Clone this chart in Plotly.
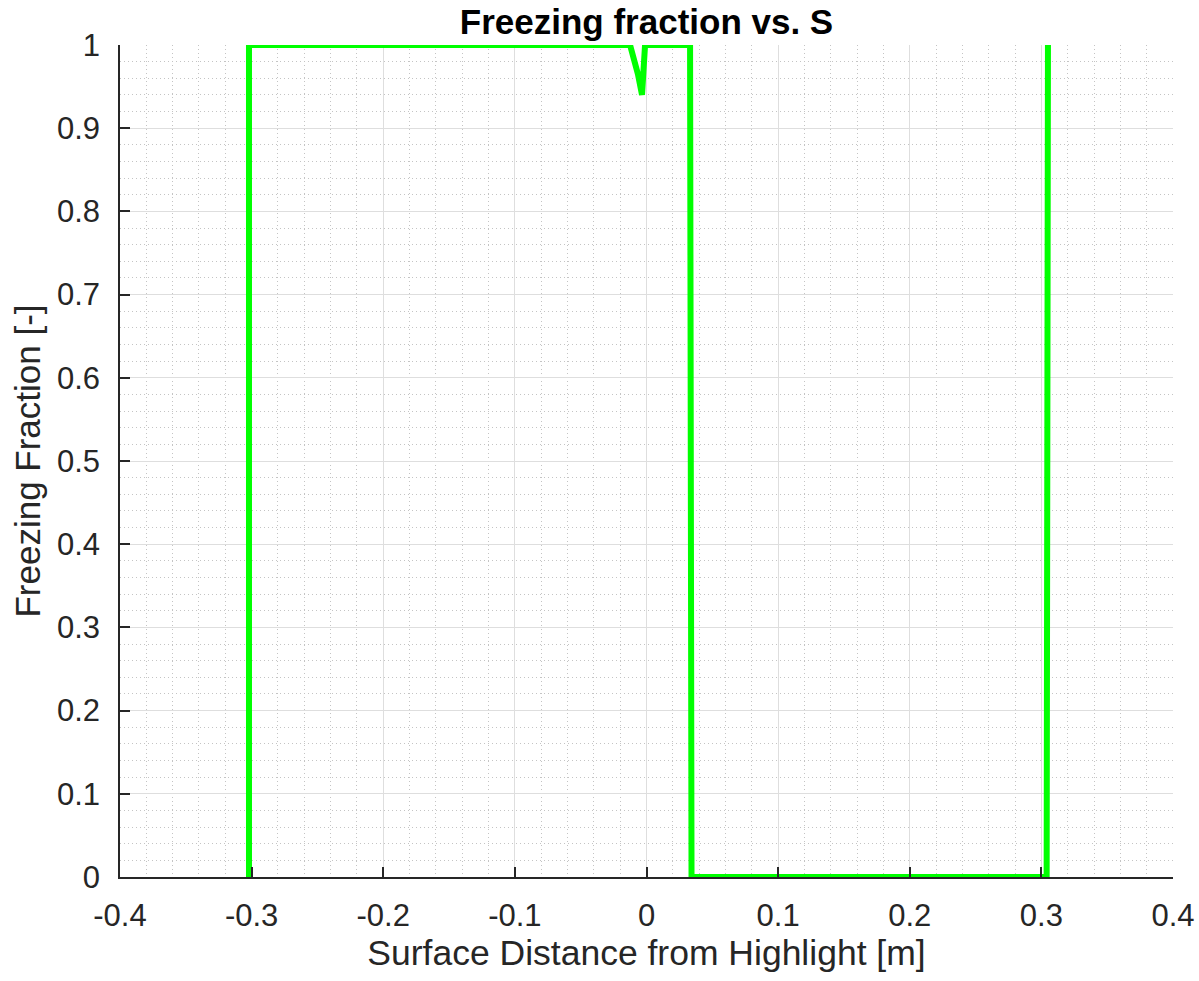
import plotly.graph_objects as go

# Surface distance from highlight [m] and freezing fraction [-]
s_values = [-0.302, -0.302, -0.0125, -0.0065, -0.0034, -0.0011, 0.0005, 0.0331, 0.0342, 0.3040, 0.3050]
ff_values = [0.0, 1.0, 1.0, 0.965, 0.94, 1.0, 1.0, 1.0, 0.0, 0.0, 1.0]

x_ticks = [-0.4, -0.3, -0.2, -0.1, 0, 0.1, 0.2, 0.3, 0.4]
x_ticklabels = ["-0.4", "-0.3", "-0.2", "-0.1", "0", "0.1", "0.2", "0.3", "0.4"]
y_ticks = [0, 0.1, 0.2, 0.3, 0.4, 0.5, 0.6, 0.7, 0.8, 0.9, 1]
y_ticklabels = ["0", "0.1", "0.2", "0.3", "0.4", "0.5", "0.6", "0.7", "0.8", "0.9", "1"]

font_family = "Liberation Sans, Arial, Helvetica, sans-serif"
axis_color = "#262626"

fig = go.Figure()
fig.add_trace(go.Scatter(
    x=s_values, y=ff_values, mode="lines",
    line=dict(color="#00FF00", width=6),
    showlegend=False,
))

common = dict(
    showline=True, linecolor=axis_color, linewidth=1.5,
    ticks="inside", ticklen=10, tickcolor=axis_color, tickwidth=1.5,
    showgrid=True, gridcolor="#dedede", gridwidth=1,
    zeroline=False, mirror=False, automargin=False,
    tickfont=dict(family=font_family, size=31, color=axis_color),
    minor=dict(showgrid=True, gridcolor="#c4c4c4", griddash="1px,3px", gridwidth=1, ticks=""),
)

fig.update_xaxes(
    range=[-0.4, 0.4], tickvals=x_ticks, ticktext=x_ticklabels,
    ticklabelstandoff=10,
    title=dict(text="Surface Distance from Highlight [m]",
               font=dict(family=font_family, size=35.5, color=axis_color), standoff=4),
    **common,
)
fig.update_xaxes(minor_dtick=0.02)
fig.update_yaxes(
    range=[0, 1], tickvals=y_ticks, ticktext=y_ticklabels,
    ticklabelstandoff=12,
    title=dict(text="Freezing Fraction [-]",
               font=dict(family=font_family, size=35, color=axis_color), standoff=6),
    **common,
)
fig.update_yaxes(minor_dtick=0.02)

fig.update_layout(
    width=1199, height=981,
    margin=dict(l=120, r=26, t=45, b=104),
    paper_bgcolor="white", plot_bgcolor="white",
    title=dict(text="<b>Freezing fraction vs. S</b>", xref="paper", x=0.5, xanchor="center",
               yref="container", y=1 - 22 / 981, yanchor="middle",
               font=dict(family=font_family, size=35, color="black")),
)

fig.write_html("out.html")
